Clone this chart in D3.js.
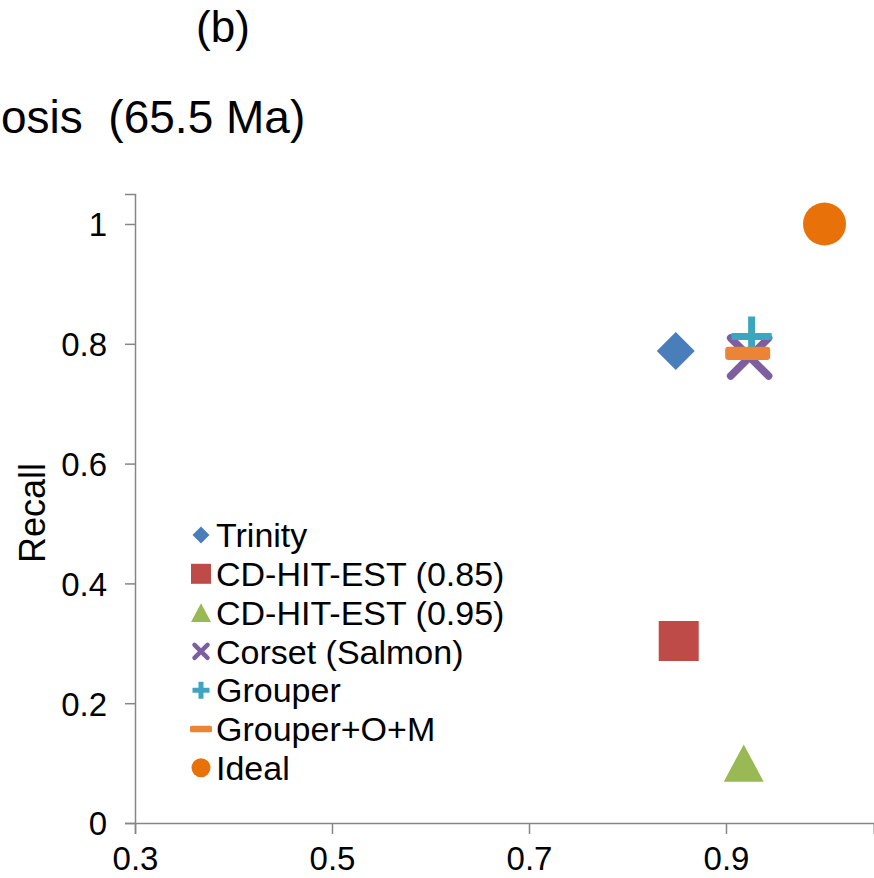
<!DOCTYPE html>
<html>
<head>
<meta charset="utf-8">
<script src="https://cdn.jsdelivr.net/npm/d3@7"></script>
<style>
  html, body { margin: 0; padding: 0; background: #fff; overflow: hidden; }
  svg { display: block; font-family: "Liberation Sans", Arial, sans-serif; }
  text { white-space: pre; }
</style>
</head>
<body>
<svg id="chart" width="874" height="878"></svg>
<script>
// ---- data ----
const series = ["Trinity", "CD-HIT-EST (0.85)", "CD-HIT-EST (0.95)", "Corset (Salmon)", "Grouper", "Grouper+O+M", "Ideal"];
const precision = [0.849, 0.852, 0.918, 0.924, 0.926, 0.922, 1.0];
const recall    = [0.788, 0.304, 0.100, 0.778, 0.812, 0.784, 1.0];
const xTicks = [0.3, 0.5, 0.7, 0.9];
const yTicks = [0, 0.2, 0.4, 0.6, 0.8, 1];
const panelLabel = "(b)";
const titleText = "osis  (65.5 Ma)";
const yTitle = "Recall";

// ---- styles ----
const colors = ["#4A7EBB", "#BE4B48", "#98B954", "#7D5FA0", "#3CA5C0", "#EC8436", "#E8710A"];
const shapes = ["diamond", "square", "triangle", "x", "plus", "dash", "circle"];

const svg = d3.select("#chart");
const x = d3.scaleLinear().domain([0.3, 1.05]).range([135, 135 + 0.75 * 985]);
const y = d3.scaleLinear().domain([0, 1.05]).range([823, 823 - 1.05 * 599]);

function markerPath(shape, s) {
  const h = s / 2;
  switch (shape) {
    case "diamond": return `M0,${-h}L${h},0L0,${h}L${-h},0Z`;
    case "square": return `M${-h},${-h}H${h}V${h}H${-h}Z`;
    case "triangle": { const th = s * 0.93 / 2; return `M0,${-th}L${h},${th}L${-h},${th}Z`; }
    case "circle": return d3.symbol(d3.symbolCircle, Math.PI * h * h)();
    default: return null;
  }
}

function drawMarker(g, shape, color, s, sw) {
  const h = s / 2;
  if (shape === "x") {
    g.append("path").attr("d", `M${-h},${-h}L${h},${h}M${h},${-h}L${-h},${h}`)
      .attr("stroke", color).attr("stroke-width", sw).attr("fill", "none").attr("stroke-linecap", "round");
  } else if (shape === "plus") {
    g.append("path").attr("d", `M${-h},0H${h}M0,${-h}V${h}`)
      .attr("stroke", color).attr("stroke-width", sw).attr("fill", "none");
  } else if (shape === "dash") {
    g.append("rect").attr("x", -h).attr("y", -s * 0.145).attr("width", s).attr("height", s * 0.29)
      .attr("rx", s * 0.07).attr("fill", color);
  } else {
    g.append("path").attr("d", markerPath(shape, s)).attr("fill", color);
  }
}

// ---- axes ----
const axisColor = "#868686";
const xAxis = svg.append("g").attr("transform", `translate(0,${y(0)})`)
  .call(d3.axisBottom(x).tickValues(xTicks).tickFormat(d3.format(".1f")).tickSize(11).tickPadding(14));
const yAxis = svg.append("g").attr("transform", `translate(${x(0.3)},0)`)
  .call(d3.axisLeft(y).tickValues(yTicks).tickFormat(d => d === 0 ? "0" : (d === 1 ? "1" : d3.format(".1f")(d))).tickSize(10).tickPadding(18));
[xAxis, yAxis].forEach(a => {
  a.select(".domain").attr("stroke", axisColor).attr("stroke-width", 1.5);
  a.selectAll(".tick line").attr("stroke", axisColor).attr("stroke-width", 1.5);
  a.selectAll(".tick text").attr("fill", "#000").attr("font-size", 33)
    .attr("font-family", "'Liberation Sans', Arial, sans-serif");
});
xAxis.selectAll(".tick text").attr("dy", "0.68em");
yAxis.selectAll(".tick text").attr("dy", "0.36em");

// ---- titles ----
svg.append("text").attr("x", 223).attr("y", 42).attr("text-anchor", "middle")
  .attr("font-size", 44).text(panelLabel);
svg.append("text").attr("x", 1).attr("y", 133).attr("text-anchor", "start")
  .attr("font-size", 46).text(titleText);
svg.append("text").attr("transform", `translate(45,513) rotate(-90)`).attr("text-anchor", "middle")
  .attr("font-size", 36).text(yTitle);

// ---- points ----
const plotSizes = [38, 40, 40, 38, 40, 45, 43];
const plotStroke = [0, 0, 0, 7.5, 7, 0, 0];
series.forEach((name, i) => {
  const g = svg.append("g").attr("transform", `translate(${x(precision[i])},${y(recall[i])})`);
  drawMarker(g, shapes[i], colors[i], plotSizes[i], plotStroke[i]);
});

// ---- legend ----
const legendSizes = [17, 20, 20, 13, 17, 22, 19];
const legendStroke = [0, 0, 0, 4.5, 5, 0, 0];
const legend = svg.append("g");
series.forEach((name, i) => {
  const cy = 535 + i * 38.8;
  const g = legend.append("g").attr("transform", `translate(201,${cy})`);
  drawMarker(g, shapes[i], colors[i], legendSizes[i], legendStroke[i]);
  legend.append("text").attr("x", 216).attr("y", cy).attr("dy", "0.36em")
    .attr("font-size", 34).text(name);
});
</script>
</body>
</html>
